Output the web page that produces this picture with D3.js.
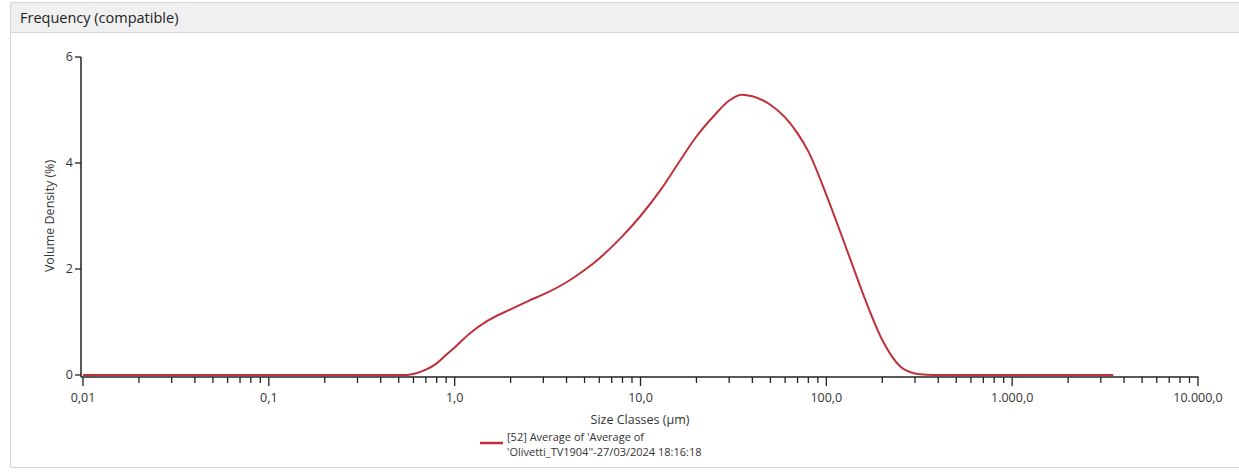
<!DOCTYPE html>
<html>
<head>
<meta charset="utf-8">
<script src="https://cdn.jsdelivr.net/npm/d3@7"></script>
<style>
  html, body { margin: 0; padding: 0; background: #ffffff; }
  svg { display: block; }
  text { font-family: "Open Sans", "Noto Sans", sans-serif; fill: #333; }
</style>
</head>
<body>
<svg id="chart" width="1239" height="472"></svg>
<script>
// ---- data ----
const sizes = [0.01, 0.1, 0.5, 0.55, 0.6, 0.7, 0.8, 0.9, 1.0, 1.2, 1.5, 2.0, 2.5, 3.0, 4.0, 5.0, 6.0, 8.0,
               10, 13, 16, 20, 25, 30, 35, 40, 50, 60, 70, 80, 100, 120, 140, 160, 200, 250, 300, 350, 400, 1000, 3500];
const volumeDensity = [0, 0, 0, 0, 0.02, 0.1, 0.22, 0.38, 0.52, 0.78, 1.02, 1.24, 1.40, 1.52, 1.75, 1.98, 2.20, 2.62,
               3.00, 3.52, 4.00, 4.50, 4.90, 5.18, 5.29, 5.26, 5.10, 4.86, 4.56, 4.22, 3.40, 2.66, 2.02, 1.47, 0.66, 0.16, 0.03, 0.005, 0, 0, 0];
const xTickValues = [0.01, 0.1, 1, 10, 100, 1000, 10000];
const xTickLabels = ["0,01", "0,1", "1,0", "10,0", "100,0", "1.000,0", "10.000,0"];
const yTickValues = [0, 2, 4, 6];
const panelTitle = "Frequency (compatible)";
const xTitle = "Size Classes (\u00b5m)";
const yTitle = "Volume Density (%)";
const legendLines = ["[52] Average of 'Average of", "'Olivetti_TV1904''-27/03/2024 18:16:18"];

// ---- layout ----
const svg = d3.select("#chart");
const W = 1239, H = 472;

// panel frame
svg.append("rect").attr("x", 10.5).attr("y", 2.5).attr("width", W).attr("height", 465)
  .attr("fill", "#ffffff").attr("stroke", "#d6d6d6");
svg.append("rect").attr("x", 11).attr("y", 3).attr("width", W).attr("height", 29)
  .attr("fill", "#f0f0f0");
svg.append("line").attr("x1", 10).attr("x2", W).attr("y1", 32.5).attr("y2", 32.5)
  .attr("stroke", "#d6d6d6");
svg.append("text").attr("x", 20).attr("y", 18).attr("dy", "0.35em")
  .style("font-size", "14.5px").style("fill", "#222").text(panelTitle);

const x = d3.scaleLog().domain([0.01, 10000]).range([83, 1198]);
const y = d3.scaleLinear().domain([0, 6]).range([375, 57]);
const axisY = 377;

// x axis
const allTicks = x.ticks();
const gx = svg.append("g").attr("transform", `translate(0,${axisY})`);
gx.append("line").attr("x1", 81).attr("x2", 1198.5).attr("y1", 0).attr("y2", 0)
  .attr("stroke", "#222").attr("stroke-width", 1.5);
gx.selectAll("line.tick").data(allTicks).join("line")
  .attr("class", "tick")
  .attr("x1", d => x(d)).attr("x2", d => x(d))
  .attr("y1", 0)
  .attr("y2", d => xTickValues.some(v => Math.abs(v - d) / v < 1e-6) ? 9 : 6)
  .attr("stroke", "#222").attr("stroke-width", 1.3);
gx.selectAll("text.lbl").data(xTickValues).join("text")
  .attr("class", "lbl")
  .attr("x", d => x(d)).attr("y", 21).attr("dy", "0.35em")
  .attr("text-anchor", "middle")
  .style("font-size", "12.5px")
  .text((d, i) => xTickLabels[i]);

// y axis
const gy = svg.append("g").attr("transform", "translate(81,0)");
gy.append("line").attr("x1", 0).attr("x2", 0).attr("y1", y(6)).attr("y2", axisY)
  .attr("stroke", "#222").attr("stroke-width", 1.5);
gy.selectAll("line.tick").data(yTickValues).join("line")
  .attr("class", "tick")
  .attr("x1", -6).attr("x2", 0)
  .attr("y1", d => y(d)).attr("y2", d => y(d))
  .attr("stroke", "#222").attr("stroke-width", 1.3);
gy.selectAll("text.lbl").data(yTickValues).join("text")
  .attr("class", "lbl")
  .attr("x", -8).attr("y", d => y(d)).attr("dy", "0.35em")
  .attr("text-anchor", "end")
  .style("font-size", "12.5px")
  .text(d => d);

// axis titles
svg.append("text").attr("x", 640).attr("y", 420).attr("dy", "0.35em")
  .attr("text-anchor", "middle").style("font-size", "12.5px").text(xTitle);
svg.append("text")
  .attr("transform", `translate(50,${(y(6) + y(0)) / 2}) rotate(-90)`)
  .attr("text-anchor", "middle").attr("dy", "0.35em")
  .style("font-size", "12.5px").text(yTitle);

// curve
const data = sizes.map((s, i) => ({ s, v: volumeDensity[i] }));
const line = d3.line().x(d => x(d.s)).y(d => y(d.v)).curve(d3.curveMonotoneX);
svg.append("path").datum(data).attr("d", line)
  .attr("fill", "none").attr("stroke", "#c0303a").attr("stroke-width", 2);

// legend
svg.append("line").attr("x1", 480).attr("x2", 503).attr("y1", 443).attr("y2", 443)
  .attr("stroke", "#c0303a").attr("stroke-width", 2.5);
svg.selectAll("text.leg").data(legendLines).join("text")
  .attr("class", "leg")
  .attr("x", 507).attr("y", (d, i) => 437 + i * 15.5).attr("dy", "0.35em")
  .style("font-size", "11px").text(d => d);
</script>
</body>
</html>
